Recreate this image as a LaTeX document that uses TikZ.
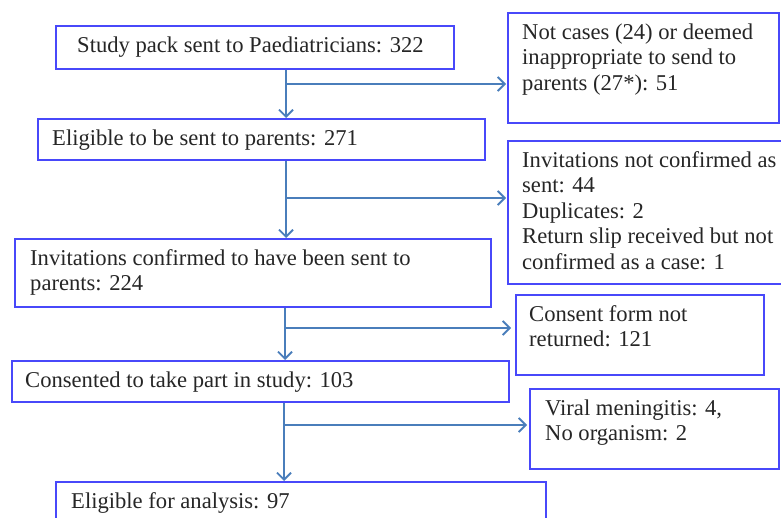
\documentclass[tikz,border=0pt]{standalone}
\usepackage{fontspec}
\setmainfont{Liberation Serif}
\usetikzlibrary{arrows.meta,calc}
\definecolor{boxblue}{RGB}{72,72,250}
\definecolor{arrblue}{RGB}{74,126,187}
\tikzset{
  box/.style={draw=boxblue, line width=1.8pt, anchor=north west, inner sep=0pt, fill=white},
  txt/.style={anchor=north west, inner sep=0pt, align=left, text=black!85,
     font=\fontsize{22.6}{25.5}\selectfont},
  arr/.style={draw=arrblue, line width=1.8pt, -{Straight Barb[length=7pt,width=14pt,line width=1.8pt]}},
  ln/.style={draw=arrblue, line width=1.8pt},
}
\begin{document}
\begin{tikzpicture}[x=1pt,y=-1pt]
\useasboundingbox (0,0) rectangle (781,518);
\clip (0,0) rectangle (781,518);
% main column
\node[box, minimum width=398pt, minimum height=43pt] (b1) at (55,25) {};
\node[box, minimum width=447pt, minimum height=41pt] (b2) at (37,118) {};
\node[box, minimum width=476pt, minimum height=68pt] (b3) at (14,238) {};
\node[box, minimum width=497pt, minimum height=41pt] (b4) at (11,360) {};
\node[box, minimum width=490pt, minimum height=60pt] (b5) at (55,481) {};
% right column
\node[box, minimum width=271pt, minimum height=110pt] (r1) at (507,12) {};
\node[box, minimum width=280pt, minimum height=143pt] (r2) at (507,140) {};
\node[box, minimum width=248pt, minimum height=80pt] (r3) at (515,294) {};
\node[box, minimum width=249pt, minimum height=80pt] (r4) at (529,388) {};
% texts
\node[txt] (t1) at ($(b1.north west)+(22,9)$) {\strut Study pack sent to Paediatricians: 322};
\node[txt] (t2) at ($(b2.north west)+(15,9)$) {\strut Eligible to be sent to parents: 271};
\node[txt] (t3) at ($(b3.north west)+(16,9)$) {\strut Invitations confirmed to have been sent to\\parents: 224};
\node[txt] (t4) at ($(b4.north west)+(14,9)$) {\strut Consented to take part in study: 103};
\node[txt] (t5) at ($(b5.north west)+(16,9)$) {\strut Eligible for analysis: 97};
\node[txt] (u1) at ($(r1.north west)+(15,9)$) {\strut Not cases (24) or deemed\\inappropriate to send to\\parents (27*): 51};
\node[txt] (u2) at ($(r2.north west)+(15,9)$) {\strut Invitations not confirmed as\\sent: 44\\Duplicates: 2\\Return slip received but not\\confirmed as a case: 1};
\node[txt] (u3) at ($(r3.north west)+(14,9)$) {\strut Consent form not\\returned: 121};
\node[txt] (u4) at ($(r4.north west)+(16,9)$) {\strut Viral meningitis: 4,\\No organism: 2};
% junctions
\coordinate (j1) at (286,84);
\coordinate (j2) at (286,198);
\coordinate (j3) at (285,328);
\coordinate (j4) at (284,425);
% connectors
\draw[arr] (j1 |- b1.south) -- (j1 |- b2.north);
\draw[arr, shorten >=1pt] (j1) -- (j1 -| r1.west);
\draw[arr] (j2 |- b2.south) -- (j2 |- b3.north);
\draw[arr, shorten >=1pt] (j2) -- (j2 -| r2.west);
\draw[arr] (j3 |- b3.south) -- (j3 |- b4.north);
\draw[arr, shorten >=4pt] (j3) -- (j3 -| r3.west);
\draw[arr] (j4 |- b4.south) -- (j4 |- b5.north);
\draw[arr, shorten >=2pt] (j4) -- (j4 -| r4.west);
\end{tikzpicture}
\end{document}
